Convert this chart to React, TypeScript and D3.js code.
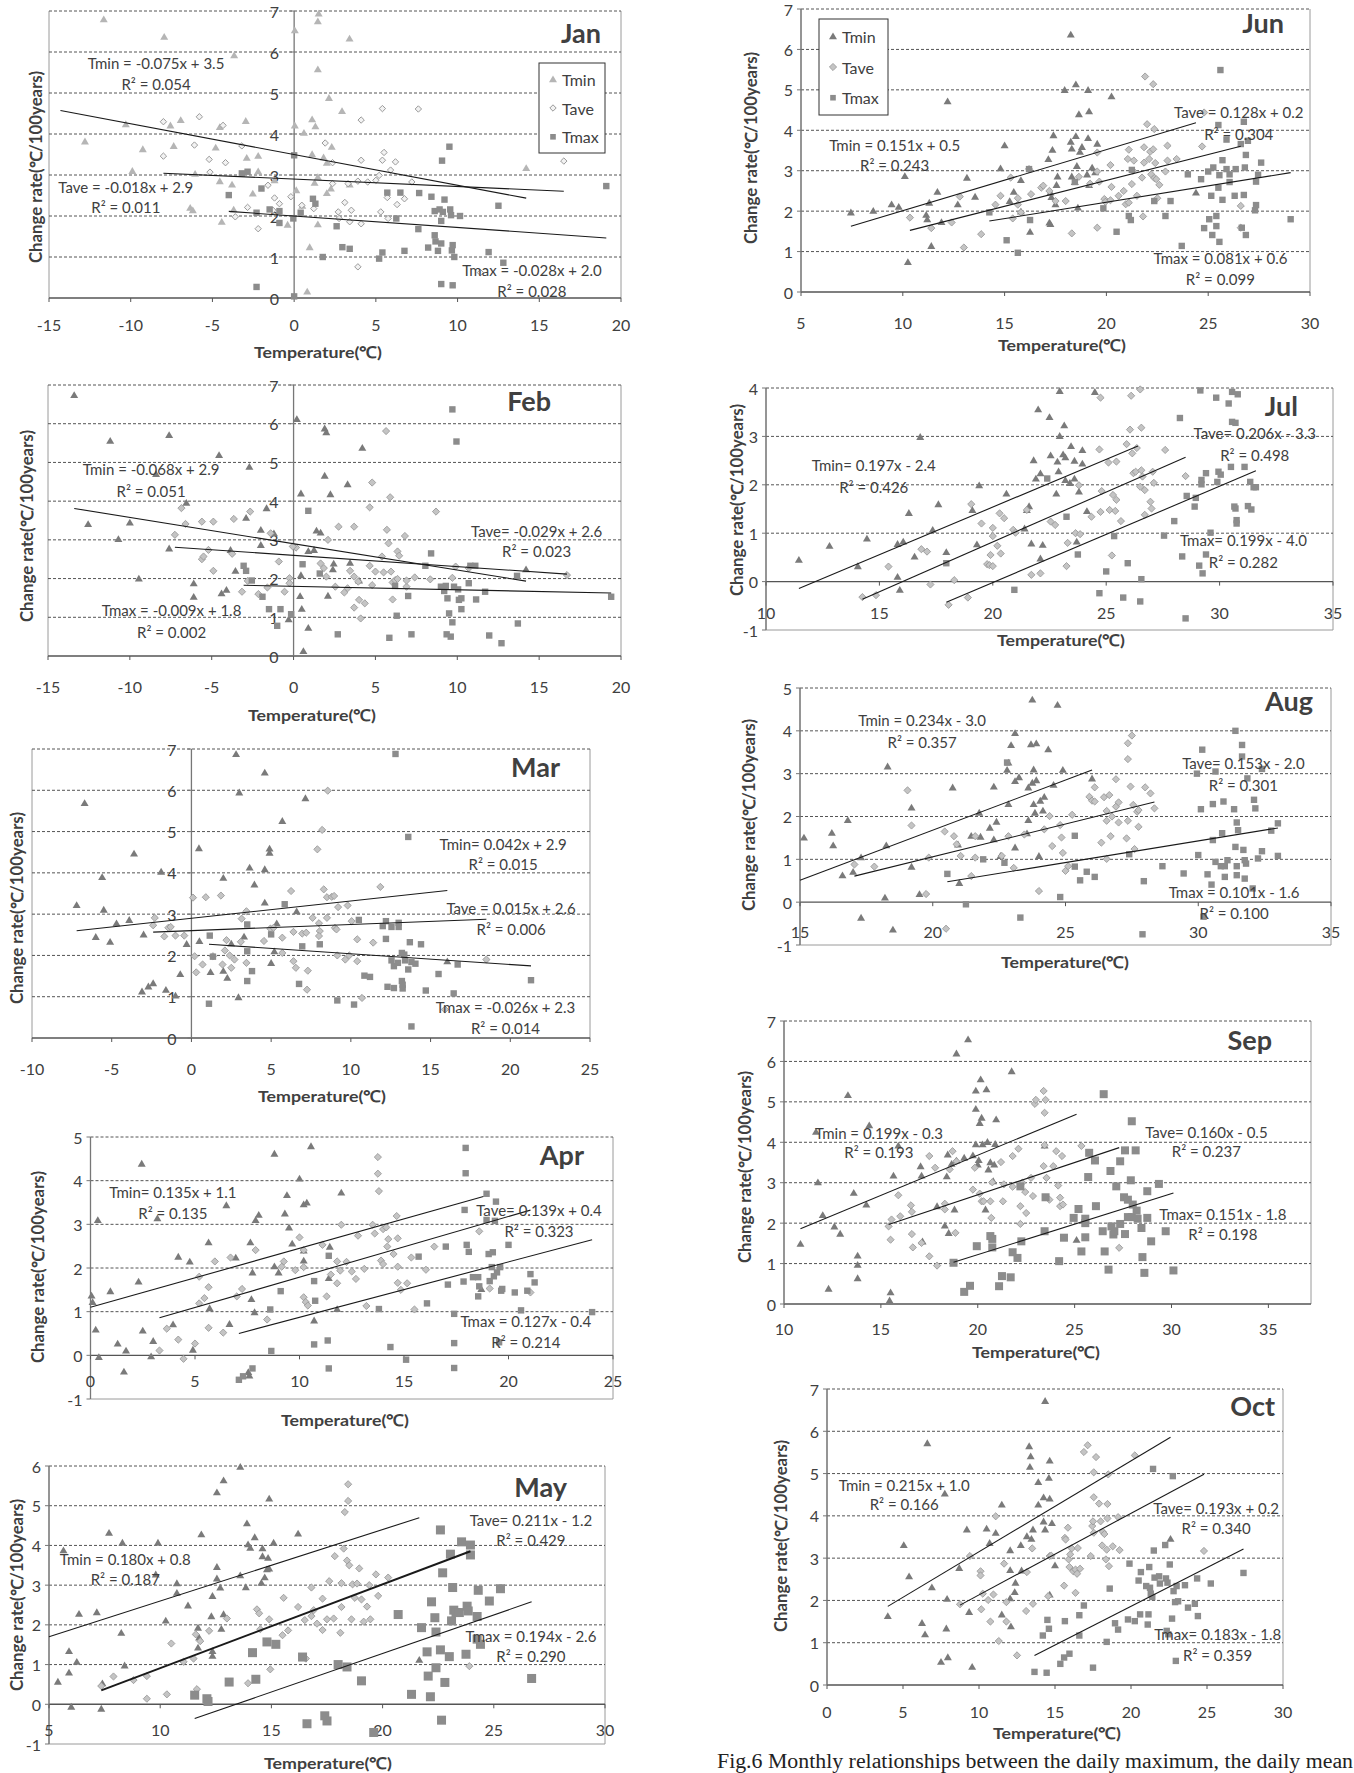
import React from "react";
import * as d3 from "d3";

type Pt = [number, number];

// ---------------- DATA ----------------
const seriesNames = ["Tmin", "Tave", "Tmax"];

const janTmin: Pt[] = [[-11.65,6.8],[-7.95,6.37],[-3.67,5.92],[0.04,6.53],[1.5,6.94],[1.45,6.75],[3.39,6.33],[1.45,5.58],[2.13,4.88],[2.93,4.56],[-10.3,4.24],[-6.94,4.34],[-7.57,4.21],[-4.55,4.17],[-2.96,4.32],[-12.8,3.82],[-9.26,3.63],[-7.37,3.71],[-4.8,3.67],[-2.9,3.42],[-2.2,3.47],[-9.9,3.1],[-6.06,3.03],[-2.2,3.09],[-4.55,2.85],[-3.8,2.77],[-2.53,2.55],[-1.2,2.87],[-6.36,2.2],[-6.2,2.14],[-4.43,1.86],[-3.7,2.16],[-0.4,1.79],[0.04,4.21],[0.6,4.03],[1.1,4.36],[1.3,4.19],[1.1,3.51],[1.8,3.43],[2.3,3.69],[2.0,3.3],[1.45,2.95],[1.25,2.81],[0.13,2.63],[2.0,2.56],[2.25,2.67],[3.4,2.77],[0.5,2.25],[1.45,1.8],[0.95,1.24],[0.8,0.16],[14.2,3.17]];
const janTave: Pt[] = [[-8.0,4.3],[-5.8,4.42],[-4.35,4.21],[-6.1,3.73],[-8.0,3.46],[-5.2,3.38],[-4.2,3.3],[-3.2,3.71],[-5.15,3.07],[-2.85,2.21],[-3.6,1.98],[-2.2,1.69],[-1.6,2.75],[-1.2,2.44],[-0.9,2.3],[-1.3,2.14],[-0.2,2.47],[0.47,2.26],[1.2,2.18],[1.9,3.78],[2.35,3.3],[2.35,2.79],[2.7,2.1],[3.1,2.33],[3.5,2.14],[2.75,1.94],[3.4,1.86],[4.1,1.81],[3.3,2.79],[3.9,2.85],[4.5,2.83],[4.1,4.34],[5.4,4.62],[7.6,4.61],[4.1,3.36],[5.5,3.55],[5.4,3.36],[6.2,3.32],[5.9,3.12],[5.2,2.99],[5.0,2.87],[7.2,2.83],[5.7,2.45],[6.75,2.42],[6.3,2.28],[5.3,2.1],[5.75,1.94],[3.9,0.76],[11.4,0.62],[16.5,3.34]];
const janTmax: Pt[] = [[0.0,3.48],[-2.85,3.08],[-3.2,3.04],[-4.0,2.51],[-2.0,2.67],[-2.3,2.08],[-1.5,2.16],[-0.9,2.12],[-0.9,1.83],[0.4,2.08],[1.15,2.42],[1.3,2.3],[-0.05,1.94],[2.6,1.75],[1.75,1.0],[2.95,1.24],[3.4,1.2],[5.2,0.96],[5.4,1.11],[5.7,2.57],[6.5,2.57],[6.25,1.94],[6.75,1.15],[7.65,2.56],[7.6,1.68],[8.4,2.47],[9.2,2.4],[8.6,2.12],[8.9,2.16],[9.1,2.1],[9.55,2.16],[9.6,2.02],[10.15,2.0],[9.0,1.88],[8.6,1.53],[8.65,1.38],[9.0,1.33],[8.2,1.23],[8.8,1.15],[9.7,1.29],[9.65,1.16],[9.8,1.0],[11.9,1.12],[9.5,3.69],[9.05,3.35],[12.5,2.25],[12.8,0.86],[9.0,0.34],[9.7,0.31],[-2.3,0.27],[0.0,0.04],[19.1,2.73]];

const febTmin: Pt[] = [[-13.4,6.74],[-11.2,5.56],[-7.6,5.71],[-4.55,5.19],[-2.7,4.89],[-8.4,4.7],[-6.55,3.96],[-12.55,3.41],[-10.0,3.45],[-10.7,3.02],[-7.6,2.78],[-9.45,2.0],[-6.1,1.88],[-6.1,1.53],[-2.9,3.57],[-1.65,3.82],[-2.0,3.26],[-2.0,2.87],[-1.2,3.17],[-3.85,2.74],[-3.55,2.2],[-4.4,1.62],[-4.1,1.71],[0.2,6.12],[1.9,5.88],[2.0,5.78],[4.2,5.38],[1.9,4.66],[3.3,4.44],[0.45,4.2],[2.25,4.18],[1.4,3.24],[1.65,3.19],[1.25,2.74],[0.9,2.71],[3.45,2.41],[2.45,2.39],[2.4,2.24],[4.0,1.95],[0.45,2.09],[2.1,1.56],[0.4,1.55],[0.5,1.22],[0.9,0.73],[0.6,0.13],[-0.3,0.95],[14.2,2.24]];
const febTave: Pt[] = [[-6.85,3.82],[-7.25,3.13],[-6.6,3.41],[-5.6,3.47],[-4.9,3.47],[-3.65,3.54],[-2.65,3.73],[-5.6,2.5],[-5.5,2.57],[-5.2,2.74],[-4.9,2.2],[-3.75,2.64],[-3.15,1.66],[-2.8,1.94],[-2.15,1.6],[-1.6,1.77],[-1.4,3.17],[-0.9,2.44],[-0.25,2.01],[-0.25,1.88],[-0.55,1.66],[0.15,2.8],[-0.05,2.83],[4.8,4.48],[5.9,4.1],[5.65,5.81],[4.65,3.84],[8.7,3.73],[2.75,3.34],[3.7,3.34],[5.7,3.26],[5.8,2.91],[6.8,3.1],[2.1,3.0],[1.65,2.39],[1.85,2.27],[2.0,2.05],[2.55,1.79],[3.45,2.2],[3.7,2.05],[3.95,1.92],[3.3,1.75],[3.1,1.64],[4.0,1.45],[3.7,1.25],[4.35,1.36],[4.1,0.97],[4.65,2.33],[4.8,1.83],[5.0,2.18],[5.4,2.57],[5.5,2.16],[5.95,2.18],[6.05,1.9],[6.05,1.46],[6.35,2.7],[6.45,2.59],[6.2,1.96],[6.35,1.99],[6.9,1.79],[6.9,1.95],[7.4,2.03],[8.35,1.98],[9.9,2.31],[10.7,2.27],[16.7,2.09],[9.7,2.02]];
const febTmax: Pt[] = [[9.7,6.37],[9.95,5.54],[0.9,3.75],[0.55,2.37],[-3.05,2.33],[-2.9,2.2],[-2.55,1.95],[-1.9,1.53],[-1.5,1.21],[-0.8,1.21],[-1.0,0.78],[-0.15,1.08],[1.6,2.13],[6.2,1.81],[7.0,1.55],[6.3,1.04],[5.85,0.47],[7.2,0.56],[2.7,0.56],[8.4,2.65],[8.05,2.33],[11.1,2.33],[10.8,2.33],[10.7,1.88],[11.7,1.66],[9.0,1.79],[9.3,1.81],[9.2,1.68],[9.8,1.79],[10.05,1.72],[9.4,1.49],[10.25,1.49],[10.1,1.45],[11.15,1.46],[10.25,1.21],[9.5,1.1],[9.7,0.87],[9.35,0.56],[9.6,0.5],[11.95,0.53],[12.7,0.33],[13.7,0.84],[13.65,2.07],[19.4,1.53]];

const marTmin: Pt[] = [[-7.2,3.22],[-6.7,5.69],[-5.5,3.11],[-6.0,2.45],[-5.1,2.33],[-4.7,2.78],[-3.9,2.86],[-3.6,4.47],[-5.6,3.9],[-3.0,2.51],[-3.1,1.13],[-2.7,1.25],[-2.4,1.33],[-1.9,4.03],[-1.6,1.17],[-1.0,1.03],[-0.7,1.55],[-0.3,2.28],[0.47,4.6],[0.5,2.35],[1.2,1.6],[2.0,3.88],[2.0,1.63],[2.25,1.46],[2.8,6.88],[3.0,5.95],[2.95,0.99],[3.65,4.13],[3.95,3.72],[3.3,2.46],[2.5,2.29],[4.6,6.43],[4.6,4.09],[4.9,4.59],[4.9,4.49],[4.6,3.28],[5.0,1.82],[5.2,2.1],[5.35,2.78],[5.7,5.26],[7.15,5.81],[6.6,3.07],[16.05,1.86]];
const marTave: Pt[] = [[0.1,3.4],[0.9,3.41],[1.85,3.45],[-2.3,2.91],[-2.4,2.73],[-1.45,2.67],[-1.3,2.69],[-1.7,2.46],[-1.0,2.48],[-0.45,2.48],[0.2,1.98],[0.3,1.59],[0.7,1.78],[1.35,1.98],[1.95,1.78],[2.2,2.37],[2.1,2.12],[2.4,2.0],[2.5,1.7],[2.7,1.9],[3.15,2.89],[3.45,3.07],[3.1,2.33],[3.45,1.82],[4.55,2.35],[4.95,2.65],[5.15,2.67],[5.7,2.43],[5.7,2.06],[6.4,2.57],[6.4,1.86],[6.55,1.7],[6.25,3.56],[6.95,2.53],[7.2,2.55],[7.3,1.63],[7.25,1.17],[7.6,2.91],[7.9,4.57],[8.2,5.04],[8.55,5.99],[8.0,2.78],[8.05,2.59],[8.0,2.47],[8.3,3.6],[8.5,3.41],[8.5,2.91],[8.8,3.42],[8.95,3.44],[9.0,2.67],[9.1,2.63],[9.2,3.17],[9.8,3.21],[9.15,2.0],[9.65,1.9],[9.9,2.0],[10.05,2.83],[10.4,2.39],[10.4,1.86],[11.4,2.31],[11.85,3.66],[18.5,1.9],[15.9,0.69],[10.7,0.97]];
const marTmax: Pt[] = [[1.15,2.48],[1.1,0.83],[1.35,1.97],[3.5,2.1],[3.5,2.75],[3.5,1.38],[3.8,1.62],[5.85,3.24],[5.0,2.51],[6.95,2.22],[6.75,1.31],[8.05,2.27],[9.15,0.91],[10.2,0.81],[10.5,2.86],[10.85,1.51],[11.2,1.48],[12.0,2.71],[12.2,2.83],[12.2,2.4],[12.55,2.69],[12.3,1.24],[12.7,1.21],[12.55,1.88],[12.7,1.74],[13.0,2.79],[13.0,2.69],[12.95,1.82],[13.2,2.06],[13.35,2.02],[13.4,1.88],[13.2,1.38],[13.25,1.29],[13.25,1.2],[13.6,1.66],[13.7,2.32],[13.8,1.84],[14.05,1.8],[14.4,2.27],[13.6,4.87],[12.8,6.88],[13.8,0.28],[14.7,1.15],[15.5,1.55],[16.45,1.08],[16.7,1.78],[21.3,1.4]];

const aprTmin: Pt[] = [[0.05,1.37],[0.1,1.22],[0.25,0.59],[0.35,3.1],[0.4,-0.04],[0.95,1.47],[1.3,0.27],[1.7,0.11],[1.6,-0.37],[2.3,1.69],[2.45,4.39],[2.5,0.57],[2.9,-0.02],[3.0,0.33],[3.2,3.14],[3.95,0.71],[4.2,2.26],[4.75,2.15],[4.9,0.13],[5.65,2.59],[5.7,1.08],[6.5,3.44],[6.65,0.72],[6.95,2.24],[7.55,-0.38],[7.6,-0.46],[7.65,2.59],[7.7,1.29],[7.75,1.9],[7.85,0.99],[7.9,3.1],[8.05,3.22],[8.8,4.62],[8.8,2.04],[9.0,1.9],[9.3,3.25],[9.4,3.67],[9.5,2.93],[9.65,2.56],[10.0,4.05],[10.2,3.46],[10.35,3.5],[10.2,2.17],[10.2,2.4],[10.55,4.79],[10.7,0.8],[11.4,1.77],[11.45,2.49],[12.0,3.73],[11.8,1.06],[18.7,1.52]];
const aprTave: Pt[] = [[3.3,0.11],[3.65,0.61],[4.2,0.36],[4.45,-0.08],[5.0,0.27],[5.2,1.19],[5.45,1.31],[5.2,1.8],[5.65,1.56],[5.65,0.63],[5.95,2.15],[6.35,0.52],[6.7,2.24],[7.0,1.35],[7.25,1.52],[7.9,2.41],[8.45,0.82],[9.15,2.03],[9.25,2.15],[9.8,1.95],[10.0,2.7],[10.2,2.41],[10.2,1.33],[10.3,1.22],[10.4,1.14],[10.2,2.02],[11.1,2.53],[11.3,1.35],[11.5,1.85],[11.8,2.15],[11.8,1.65],[11.95,1.94],[12.0,2.99],[12.25,2.14],[12.5,1.92],[12.7,1.75],[12.8,2.74],[13.1,1.98],[13.2,1.13],[13.5,2.99],[13.6,2.79],[13.75,4.54],[13.75,4.16],[13.8,3.76],[13.9,2.17],[14.0,2.09],[14.0,2.89],[14.15,2.93],[14.2,2.49],[14.25,2.66],[14.5,2.32],[14.65,3.19],[14.7,2.68],[14.7,2.03],[14.7,1.66],[14.85,1.5],[15.15,1.65],[15.35,2.24],[15.5,1.05],[16.05,1.96],[16.45,2.49],[18.6,2.84],[19.1,1.53],[21.05,1.44]];
const aprTmax: Pt[] = [[7.1,-0.56],[7.3,-0.48],[7.75,-0.3],[8.6,1.05],[8.65,0.1],[9.1,1.47],[10.7,1.7],[10.75,1.25],[10.7,0.25],[11.4,2.28],[11.35,0.34],[11.4,-0.3],[13.8,1.06],[14.35,0.19],[15.1,-0.1],[15.7,2.26],[16.1,1.19],[17.0,2.49],[17.1,1.62],[17.4,0.95],[17.4,0.28],[17.4,-0.29],[17.95,4.75],[17.95,4.17],[17.9,3.33],[18.0,2.53],[18.1,2.37],[17.85,1.69],[18.3,1.79],[18.55,1.79],[18.55,1.35],[18.6,1.58],[18.95,3.7],[18.95,3.1],[19.05,2.32],[19.25,2.36],[19.4,3.52],[19.35,3.08],[19.2,2.02],[19.3,1.81],[19.45,1.9],[19.1,1.7],[19.6,2.02],[19.65,1.48],[19.7,1.52],[20.0,2.53],[20.3,1.44],[20.6,1.03],[20.9,1.48],[21.05,1.86],[21.25,1.67],[24.0,0.99],[19.55,0.3]];

const mayTmin: Pt[] = [[5.4,0.57],[5.65,3.88],[5.9,1.34],[5.9,0.8],[6.0,-0.06],[6.25,1.07],[6.35,2.28],[7.15,2.32],[7.35,-0.11],[7.4,0.53],[7.7,4.32],[8.25,1.8],[8.3,4.07],[8.4,0.98],[9.9,4.07],[9.8,3.27],[10.25,2.11],[10.75,3.05],[10.75,2.81],[11.25,2.49],[11.85,4.28],[11.75,1.68],[11.7,1.93],[11.7,1.43],[12.3,2.22],[12.35,2.73],[12.35,1.34],[12.35,1.22],[12.55,3.46],[12.55,3.17],[12.55,5.34],[12.7,2.94],[12.75,1.9],[12.85,5.64],[12.85,2.27],[13.6,5.98],[13.6,3.25],[13.85,2.95],[13.9,4.56],[13.95,4.03],[14.05,3.94],[14.25,4.21],[14.55,3.06],[14.6,3.93],[14.6,3.73],[14.7,3.2],[14.8,3.4],[14.85,3.69],[14.9,5.18],[14.9,3.42],[15.1,4.07],[16.2,4.3],[21.65,1.12]];
const mayTave: Pt[] = [[7.35,0.46],[7.9,0.7],[8.8,0.61],[9.4,0.71],[9.4,0.14],[10.3,0.25],[10.5,1.53],[11.05,1.07],[11.5,1.15],[11.6,1.76],[11.65,0.38],[11.8,1.59],[12.2,1.85],[13.0,2.16],[13.95,0.53],[14.35,2.39],[14.45,2.29],[14.5,1.89],[14.9,2.14],[14.95,0.88],[15.55,2.68],[15.5,1.74],[15.75,1.86],[16.2,2.45],[16.5,2.12],[16.55,1.15],[16.8,2.22],[16.8,2.94],[16.9,2.37],[17.05,2.03],[17.3,2.66],[17.3,1.87],[17.5,2.14],[17.6,3.1],[17.8,2.16],[17.85,3.73],[18.1,1.8],[18.15,2.45],[18.15,3.05],[18.25,3.92],[18.3,4.84],[18.4,3.62],[18.45,5.12],[18.45,5.54],[18.5,3.5],[18.6,2.14],[18.65,3.02],[18.75,2.68],[18.85,3.04],[18.95,3.42],[19.05,2.64],[19.15,2.08],[19.3,2.46],[19.4,3.0],[19.45,2.14],[19.7,3.27],[19.8,2.73],[20.25,3.19],[23.9,0.96]];
const mayTmax: Pt[] = [[11.55,0.23],[12.1,0.14],[12.15,0.07],[13.1,0.56],[14.15,1.3],[14.3,0.63],[14.8,1.57],[15.2,1.51],[16.4,1.19],[16.6,-0.49],[17.4,-0.29],[17.5,-0.42],[18.0,1.0],[18.4,0.94],[19.05,0.59],[19.6,-0.71],[20.7,2.26],[21.3,0.25],[21.75,1.93],[22.0,1.32],[22.05,0.71],[22.15,0.19],[22.2,2.58],[22.35,2.18],[22.4,1.82],[22.4,0.92],[22.6,4.39],[22.6,1.37],[22.65,-0.4],[22.7,3.31],[22.8,0.55],[23.0,1.2],[23.05,3.78],[23.1,2.1],[23.15,2.94],[23.2,2.37],[23.3,2.31],[23.45,2.31],[23.55,4.09],[23.75,1.26],[23.8,2.47],[23.85,2.35],[23.95,3.76],[23.95,4.01],[24.25,2.21],[24.3,2.87],[24.25,1.64],[24.4,1.51],[24.8,2.6],[25.3,2.91],[26.7,0.65]];

const junTmin: Pt[] = [[7.45,1.97],[8.55,2.01],[9.45,2.17],[9.8,2.11],[10.1,2.87],[10.25,0.74],[11.15,1.91],[11.2,1.8],[11.3,2.21],[11.4,1.14],[11.7,2.48],[11.9,1.73],[12.2,4.72],[12.7,2.17],[13.15,2.83],[13.55,2.36],[14.8,3.06],[15.0,3.63],[15.25,2.25],[15.45,2.48],[15.8,2.77],[15.8,1.99],[16.25,1.49],[17.15,3.29],[17.2,1.72],[17.25,1.68],[17.25,2.46],[17.3,2.35],[17.35,3.52],[17.4,3.88],[17.5,2.17],[17.55,2.65],[17.6,2.86],[17.95,5.0],[18.25,6.37],[18.25,3.72],[18.3,3.55],[18.3,2.86],[18.45,2.72],[18.5,5.14],[18.5,3.86],[18.55,3.12],[18.6,2.09],[18.65,4.4],[18.7,3.47],[18.8,3.59],[19.05,2.91],[19.1,5.0],[19.15,4.47],[19.1,3.81],[19.15,2.65],[19.3,3.08],[19.45,2.96],[19.55,3.67],[20.25,4.84],[24.4,2.46]];
const junTave: Pt[] = [[10.35,1.84],[11.4,1.58],[12.4,1.72],[12.8,2.36],[13.0,1.1],[13.85,1.43],[14.55,2.16],[14.8,2.38],[15.3,2.83],[15.4,1.82],[15.65,2.32],[15.65,2.16],[15.8,1.97],[16.3,2.42],[16.2,3.04],[16.8,2.58],[16.9,2.63],[17.2,2.5],[17.5,2.25],[18.0,2.25],[18.3,1.45],[18.65,2.85],[19.2,2.68],[19.55,1.59],[19.55,2.98],[19.55,3.45],[19.65,2.73],[19.9,2.3],[19.95,2.23],[20.2,2.27],[20.2,3.14],[20.25,2.6],[20.6,2.38],[20.85,2.5],[20.95,2.17],[21.05,3.29],[21.1,3.52],[21.1,2.21],[21.25,2.67],[21.3,3.0],[21.35,3.25],[21.5,2.38],[21.75,2.83],[21.8,1.87],[21.85,3.58],[21.85,3.2],[21.9,5.33],[22.0,4.15],[22.1,3.29],[22.15,3.47],[22.2,2.91],[22.3,5.14],[22.3,3.53],[22.35,4.03],[22.35,2.82],[22.4,3.19],[22.45,2.79],[22.5,2.32],[22.6,2.65],[22.9,2.98],[23.0,3.62],[23.0,3.25],[23.45,3.29],[24.7,3.6],[24.8,4.44],[26.6,2.13],[26.6,1.59]];
const junTmax: Pt[] = [[14.25,1.97],[15.1,1.28],[15.65,0.97],[16.2,3.04],[16.25,1.78],[18.45,2.72],[19.85,2.07],[20.5,1.49],[21.1,1.88],[21.2,1.78],[21.25,3.02],[22.35,2.25],[22.9,1.88],[23.15,2.25],[23.7,1.14],[24.0,2.91],[24.65,2.79],[24.8,1.58],[25.0,2.98],[25.05,1.8],[25.15,2.38],[25.2,1.41],[25.25,3.08],[25.4,1.88],[25.4,1.63],[25.5,2.58],[25.55,2.89],[25.5,4.13],[25.55,1.24],[25.6,5.49],[25.7,3.26],[25.7,2.28],[25.9,3.77],[25.9,3.04],[26.05,2.72],[26.05,2.91],[26.3,2.38],[26.35,3.04],[26.6,3.66],[26.65,1.59],[26.75,2.4],[26.75,4.21],[26.8,3.08],[26.85,3.39],[26.85,1.41],[26.95,3.74],[27.3,2.02],[27.35,2.15],[27.35,2.73],[27.45,2.9],[27.6,3.2],[29.05,1.8]];

const julTmin: Pt[] = [[11.45,0.45],[12.8,0.74],[14.05,0.32],[14.45,0.89],[15.8,0.78],[16.05,0.83],[16.3,1.42],[16.55,0.52],[16.8,2.99],[17.35,1.07],[17.6,1.6],[17.95,0.61],[15.9,-0.17],[15.8,0.1],[19.1,1.48],[19.4,1.99],[19.3,0.77],[20.6,1.82],[21.4,1.1],[21.5,1.48],[21.6,1.56],[21.7,0.79],[21.8,2.51],[21.9,2.13],[22.0,3.56],[22.1,2.24],[22.1,0.48],[22.2,0.76],[22.5,3.4],[22.55,2.61],[22.8,1.82],[22.85,2.48],[22.9,2.28],[22.95,3.94],[22.95,3.01],[23.1,2.63],[23.15,3.23],[23.2,2.57],[23.2,2.1],[23.4,2.04],[23.45,2.8],[23.6,2.5],[23.6,2.13],[23.8,1.86],[23.7,0.83],[23.95,2.72],[23.95,2.44],[24.15,1.46],[24.5,3.92]];
const julTave: Pt[] = [[14.25,-0.32],[14.85,-0.28],[15.4,0.31],[17.1,0.62],[17.25,-0.06],[16.85,0.67],[18.05,-0.48],[18.3,0.03],[18.9,-0.33],[19.05,1.6],[19.5,1.2],[19.75,0.36],[19.85,0.34],[19.9,0.55],[20.0,0.94],[20.0,0.32],[20.0,1.11],[20.2,0.74],[20.3,1.41],[20.35,0.58],[20.5,1.31],[20.9,1.07],[21.0,1.01],[21.5,1.48],[21.7,0.14],[22.1,0.17],[22.55,1.24],[22.75,1.17],[23.25,0.32],[23.3,0.8],[23.65,1.0],[23.8,1.99],[23.85,0.98],[24.35,1.34],[24.7,2.73],[24.75,3.8],[24.75,1.44],[24.8,1.87],[25.1,2.46],[25.15,1.48],[25.25,0.54],[25.3,1.79],[25.4,1.46],[25.45,2.48],[25.45,1.69],[25.65,1.25],[25.9,2.84],[26.05,3.14],[26.1,3.84],[26.15,2.65],[26.2,2.24],[26.3,2.27],[26.35,2.76],[26.5,1.96],[26.5,3.97],[26.55,3.18],[26.55,2.3],[26.6,2.17],[26.7,1.38],[26.7,1.89],[26.95,1.65],[27.0,1.51],[27.05,2.27],[27.1,2.04],[27.6,2.72],[28.5,2.18]];
const julTmax: Pt[] = [[30.55,3.92],[30.8,3.87],[29.15,3.95],[29.85,3.8],[30.4,3.68],[30.55,3.3],[30.7,3.28],[28.25,3.38],[29.95,2.27],[30.05,2.21],[30.5,2.37],[31.1,2.37],[29.4,2.24],[29.2,2.1],[29.2,2.01],[29.9,2.06],[31.35,2.06],[31.5,1.95],[31.6,1.95],[28.55,1.77],[28.95,1.73],[28.9,1.55],[28.0,1.25],[30.65,1.55],[30.7,1.51],[31.25,1.56],[31.4,1.49],[30.75,1.27],[30.75,1.2],[29.6,1.01],[27.55,0.95],[28.35,0.52],[29.4,0.56],[29.25,0.17],[29.1,0.33],[25.35,0.94],[23.25,1.34],[22.4,2.13],[23.75,0.56],[20.95,-0.17],[17.95,0.38],[25.0,0.21],[24.7,-0.24],[25.75,-0.33],[25.95,0.38],[26.5,-0.41],[26.55,0.05],[28.5,-0.76]];

const augTmin: Pt[] = [[15.15,1.51],[16.2,1.62],[16.25,1.33],[16.6,0.63],[16.8,1.92],[17.0,0.71],[17.3,1.05],[17.3,-0.36],[18.2,0.11],[18.25,1.33],[18.3,3.17],[18.5,-0.64],[19.2,2.21],[19.2,0.83],[19.5,0.19],[20.75,2.68],[20.95,1.35],[21.0,0.45],[21.45,1.55],[21.75,2.09],[21.8,1.53],[22.15,1.74],[22.3,2.7],[22.3,1.47],[22.4,1.88],[22.55,1.08],[22.8,3.09],[22.85,3.26],[22.85,2.29],[22.95,3.67],[23.1,3.95],[23.1,1.28],[23.1,2.83],[23.25,2.92],[23.55,1.61],[23.6,1.92],[23.6,2.68],[23.7,3.69],[23.75,4.73],[23.75,2.79],[23.8,2.29],[23.8,3.1],[23.85,2.09],[23.9,2.85],[23.9,3.71],[24.0,1.08],[24.05,2.37],[24.15,2.14],[24.2,2.46],[24.35,3.57],[24.55,2.74],[24.7,4.61],[24.9,3.09],[26.0,2.89]];
const augTave: Pt[] = [[17.05,0.88],[17.8,0.83],[19.05,2.61],[19.2,1.79],[19.75,0.19],[19.85,1.04],[20.45,1.65],[20.5,-0.62],[20.8,1.54],[20.9,1.35],[21.05,1.08],[21.45,0.61],[21.6,1.54],[21.6,1.04],[22.6,1.08],[22.85,1.54],[23.05,0.8],[23.45,1.58],[24.0,0.26],[24.2,1.7],[24.4,2.01],[24.5,1.31],[24.85,1.51],[24.9,1.15],[24.8,1.8],[25.0,0.73],[25.1,0.84],[25.25,2.04],[25.9,2.46],[26.0,2.37],[26.1,2.68],[26.1,2.35],[26.35,1.39],[26.45,2.45],[26.55,2.13],[26.55,1.9],[26.55,1.01],[26.65,2.5],[26.7,1.54],[26.75,2.0],[26.9,2.87],[26.9,2.23],[27.0,2.33],[27.0,1.86],[27.3,1.49],[27.35,3.34],[27.35,3.71],[27.5,3.89],[27.35,1.9],[27.45,2.7],[27.55,2.27],[27.6,1.24],[27.7,2.11],[27.75,1.76],[27.75,2.15],[28.0,2.68],[28.2,2.54],[28.35,2.19]];
const augTmax: Pt[] = [[20.55,0.66],[21.25,-0.05],[21.9,1.0],[22.7,0.92],[22.8,3.26],[23.3,-0.36],[24.8,0.12],[25.35,0.83],[25.55,0.51],[25.8,0.71],[26.1,0.59],[25.35,1.55],[27.4,1.12],[27.95,0.49],[27.9,-0.75],[28.65,0.84],[29.45,0.67],[29.95,3.0],[30.0,1.1],[30.1,2.17],[30.15,3.56],[30.2,-0.34],[30.35,0.65],[30.55,2.29],[30.55,1.45],[30.5,0.41],[30.65,3.05],[30.65,0.94],[30.85,0.84],[30.9,1.61],[30.95,2.35],[31.0,0.84],[31.0,0.59],[31.1,0.98],[31.35,2.17],[31.4,1.29],[31.45,0.84],[31.45,0.63],[31.45,1.86],[31.5,1.68],[31.4,4.0],[31.65,3.67],[31.65,3.4],[31.7,1.22],[31.75,0.98],[31.75,0.55],[31.8,0.9],[31.85,2.89],[32.05,0.32],[32.1,2.39],[32.15,2.19],[32.25,1.02],[32.4,3.11],[32.4,1.19],[32.75,1.67],[33.0,1.84],[33.0,1.08]];

const sepTmin: Pt[] = [[10.85,1.49],[11.65,4.26],[11.75,3.01],[12.0,2.2],[12.3,0.38],[12.6,1.92],[12.9,1.74],[13.3,5.17],[13.6,2.75],[13.8,1.2],[13.8,0.97],[13.8,0.64],[14.25,2.46],[14.4,4.42],[15.45,0.09],[15.5,0.29],[15.65,3.18],[15.9,3.92],[17.05,3.41],[17.1,3.18],[17.15,1.55],[17.9,2.42],[18.3,1.94],[18.4,3.16],[18.45,3.7],[18.5,1.76],[18.65,3.47],[18.8,2.34],[18.9,6.2],[18.9,3.55],[19.3,3.62],[19.5,6.55],[19.75,3.68],[19.9,5.28],[19.9,4.83],[19.9,3.95],[20.0,3.45],[20.05,3.56],[20.1,4.48],[20.15,5.56],[20.2,4.61],[20.25,3.95],[20.4,2.34],[20.45,5.31],[20.5,4.01],[20.55,3.33],[20.65,3.51],[20.8,3.04],[20.85,3.45],[20.9,3.96],[20.95,4.57],[21.75,5.76],[23.45,3.92],[25.1,1.59]];
const sepTave: Pt[] = [[15.4,1.92],[15.5,1.59],[15.55,2.09],[16.0,2.17],[15.9,2.69],[16.55,2.44],[16.6,2.28],[16.6,1.73],[16.65,1.4],[17.1,1.51],[17.5,3.66],[17.5,1.18],[17.8,3.37],[17.9,0.95],[18.3,2.48],[18.3,2.34],[18.55,3.33],[18.7,3.78],[18.85,1.76],[18.9,3.53],[19.75,2.83],[19.85,3.37],[20.1,2.73],[20.2,2.54],[20.3,2.54],[20.65,2.54],[20.7,2.13],[20.75,3.01],[21.2,3.51],[21.3,2.54],[21.35,2.96],[21.8,3.66],[21.8,2.9],[22.1,3.84],[22.2,2.42],[22.2,1.98],[22.3,3.0],[22.45,2.77],[22.5,2.25],[22.75,3.12],[22.85,2.67],[22.95,4.95],[23.0,5.05],[23.4,5.27],[23.4,3.41],[23.45,4.73],[23.45,3.93],[23.5,5.05],[23.55,3.12],[23.7,2.58],[23.9,3.41],[24.05,3.78],[24.15,2.93],[24.25,2.63],[24.25,2.42],[24.35,3.66],[24.4,2.46],[25.35,3.91],[27.3,1.39]];
const sepTmax: Pt[] = [[19.3,0.3],[19.6,0.45],[19.95,1.43],[20.65,1.68],[20.75,1.61],[20.75,1.4],[21.1,0.44],[21.25,0.69],[21.7,0.66],[21.8,1.28],[22.05,1.14],[22.2,2.91],[22.25,1.55],[18.75,1.02],[23.45,1.8],[23.5,2.64],[24.2,1.06],[24.45,1.64],[24.95,2.13],[25.2,2.35],[25.35,1.3],[25.55,2.11],[25.55,2.0],[25.55,1.65],[25.7,3.14],[25.75,3.74],[26.05,3.55],[26.1,2.42],[26.45,1.8],[26.5,5.19],[26.55,1.3],[26.75,0.85],[26.85,3.29],[26.9,1.92],[27.0,1.72],[27.05,1.8],[27.15,2.91],[27.35,1.98],[27.35,3.53],[27.55,2.64],[27.6,3.8],[27.6,1.73],[27.75,2.58],[27.75,2.15],[27.9,3.06],[27.95,4.52],[27.95,2.15],[28.0,2.46],[28.15,3.8],[28.2,2.31],[28.25,2.11],[28.45,1.88],[28.5,1.16],[28.6,0.77],[28.75,2.79],[28.75,2.13],[28.95,1.55],[29.35,2.97],[29.7,1.8],[30.1,0.83]];

const octTmin: Pt[] = [[4.0,1.63],[5.05,3.31],[5.4,2.57],[6.25,1.47],[6.45,1.2],[6.6,5.72],[6.9,2.31],[7.5,0.55],[7.75,4.53],[7.85,1.34],[7.9,2.04],[7.95,0.66],[8.7,2.77],[9.2,3.68],[9.35,1.73],[9.55,0.43],[10.5,3.7],[10.7,3.36],[11.1,3.6],[11.5,4.27],[11.5,1.67],[12.05,3.19],[12.05,2.72],[12.05,2.05],[12.1,1.39],[12.35,2.2],[12.4,2.42],[12.75,3.31],[12.8,2.71],[13.15,3.52],[13.3,5.65],[13.35,5.16],[13.4,5.41],[13.45,3.46],[13.55,3.68],[13.9,4.8],[13.9,4.27],[14.25,3.87],[14.25,4.44],[14.35,6.72],[14.35,3.68],[14.6,4.9],[14.65,5.31],[14.65,4.41],[14.65,2.14],[14.8,3.83],[15.0,2.83],[22.6,3.46]];
const octTave: Pt[] = [[8.75,1.91],[9.4,3.05],[10.1,2.69],[10.1,2.59],[10.15,1.79],[10.25,2.16],[10.6,2.01],[10.75,1.5],[10.95,2.14],[11.1,3.99],[11.3,1.04],[11.65,2.87],[11.8,1.96],[11.8,1.5],[12.5,0.7],[13.1,1.75],[13.15,2.67],[13.5,3.23],[13.55,1.92],[14.55,2.1],[14.65,3.05],[14.75,3.06],[15.6,2.35],[15.65,3.48],[15.7,3.44],[15.85,3.72],[15.9,2.97],[15.95,2.79],[16.0,3.09],[16.1,3.23],[16.2,2.69],[16.35,2.73],[16.35,2.18],[16.45,2.63],[16.5,3.24],[16.65,2.75],[16.9,5.51],[17.15,5.67],[17.35,3.05],[17.45,3.76],[17.5,3.87],[17.55,4.44],[17.55,3.6],[17.55,5.03],[17.7,5.39],[17.9,4.29],[18.0,3.87],[18.1,3.3],[18.15,3.62],[18.25,3.57],[18.35,2.97],[18.4,3.2],[18.45,3.94],[18.45,4.28],[18.55,2.81],[18.5,4.98],[18.8,3.28],[19.25,3.19],[19.15,3.97],[20.25,5.43],[24.8,3.17]];
const octTmax: Pt[] = [[13.65,0.31],[14.45,0.29],[14.2,1.17],[14.5,1.54],[14.6,1.33],[15.35,0.5],[15.6,0.65],[15.65,1.51],[15.95,0.74],[16.6,1.65],[16.6,1.17],[16.9,1.88],[17.5,0.41],[18.4,1.02],[18.6,2.28],[18.95,1.46],[19.15,1.31],[19.8,1.55],[19.9,2.87],[20.25,1.51],[20.5,2.47],[20.6,1.67],[20.65,2.67],[21.0,2.34],[21.1,1.43],[21.15,1.67],[21.2,2.79],[21.25,2.3],[21.3,2.16],[21.4,2.08],[21.45,5.11],[21.5,3.18],[21.55,2.54],[21.85,2.57],[21.9,2.4],[22.25,3.31],[22.3,2.52],[22.4,2.42],[22.55,2.85],[22.7,1.57],[22.75,4.94],[22.8,2.22],[22.9,1.96],[22.95,0.57],[23.0,2.34],[23.1,1.98],[22.35,1.28],[22.45,1.2],[23.55,2.36],[23.75,1.83],[24.2,1.92],[24.35,2.52],[24.4,1.63],[25.25,2.4],[27.4,2.65]];

// regression fits: [slope, intercept, xStart, xEnd] for Tmin, Tave, Tmax
const janFits = [[-0.075, 3.5, -14.3, 14.2], [-0.018, 2.9, -8.0, 16.5], [-0.028, 2.0, -4.0, 19.1]];
const febFits = [[-0.068, 2.9, -13.4, 14.2], [-0.029, 2.6, -7.25, 16.7], [-0.009, 1.8, -3.05, 19.4]];
const marFits = [[0.042, 2.9, -7.2, 16.05], [0.015, 2.6, -2.4, 18.5], [-0.026, 2.3, 1.1, 21.3]];
const aprFits = [[0.135, 1.1, 0.0, 18.8], [0.139, 0.4, 3.3, 21.05], [0.127, -0.4, 7.1, 24.0]];
const mayFits = [[0.18, 0.8, 5.0, 21.65], [0.211, -1.2, 7.35, 23.95], [0.194, -2.6, 11.55, 26.7]];
const junFits = [[0.151, 0.5, 7.45, 24.4], [0.128, 0.2, 10.35, 26.6], [0.081, 0.6, 14.25, 29.05]];
const julFits = [[0.197, -2.4, 11.45, 26.4], [0.206, -3.3, 14.25, 28.5], [0.199, -4.0, 17.95, 31.6]];
const augFits = [[0.234, -3.0, 15.0, 26.0], [0.153, -2.0, 17.05, 28.35], [0.101, -1.6, 20.55, 33.0]];
const sepFits = [[0.199, -0.3, 10.85, 25.1], [0.16, -0.5, 15.4, 27.3], [0.151, -1.8, 18.75, 30.1]];
const octFits = [[0.215, 1.0, 4.0, 22.6], [0.193, 0.2, 8.75, 24.8], [0.183, -1.8, 13.65, 27.4]];

const janEq = ["Tmin = -0.075x + 3.5", "Tave = -0.018x + 2.9", "Tmax = -0.028x + 2.0"];
const febEq = ["Tmin = -0.068x + 2.9", "Tave= -0.029x + 2.6", "Tmax = -0.009x + 1.8"];
const marEq = ["Tmin= 0.042x + 2.9", "Tave = 0.015x + 2.6", "Tmax = -0.026x + 2.3"];
const aprEq = ["Tmin= 0.135x + 1.1", "Tave= 0.139x + 0.4", "Tmax = 0.127x - 0.4"];
const mayEq = ["Tmin = 0.180x + 0.8", "Tave= 0.211x - 1.2", "Tmax = 0.194x - 2.6"];
const junEq = ["Tmin = 0.151x + 0.5", "Tave = 0.128x + 0.2", "Tmax = 0.081x + 0.6"];
const julEq = ["Tmin= 0.197x - 2.4", "Tave= 0.206x - 3.3", "Tmax= 0.199x - 4.0"];
const augEq = ["Tmin = 0.234x - 3.0", "Tave= 0.153x - 2.0", "Tmax = 0.101x - 1.6"];
const sepEq = ["Tmin = 0.199x - 0.3", "Tave= 0.160x - 0.5", "Tmax= 0.151x - 1.8"];
const octEq = ["Tmin = 0.215x + 1.0", "Tave= 0.193x + 0.2", "Tmax= 0.183x - 1.8"];

const janR2 = ["0.054", "0.011", "0.028"];
const febR2 = ["0.051", "0.023", "0.002"];
const marR2 = ["0.015", "0.006", "0.014"];
const aprR2 = ["0.135", "0.323", "0.214"];
const mayR2 = ["0.187", "0.429", "0.290"];
const junR2 = ["0.243", "0.304", "0.099"];
const julR2 = ["0.426", "0.498", "0.282"];
const augR2 = ["0.357", "0.301", "0.100"];
const sepR2 = ["0.193", "0.237", "0.198"];
const octR2 = ["0.166", "0.340", "0.359"];

const xTitle = "Temperature(℃)";
const yTitle = "Change rate(℃/100years)";
const caption = "Fig.6 Monthly relationships between the daily maximum, the daily mean";

// ---------------- LAYOUT ----------------
const FONT = "Lato, 'Open Sans', Roboto, sans-serif";
const TXT = "#404040";

interface PanelDef {
  name: string;
  tmin: Pt[]; tave: Pt[]; tmax: Pt[];
  fits: number[][]; eq: string[]; r2: string[];
  xDomain: [number, number]; yDomain: [number, number];
  xTicks: number[]; yTicks: number[];
  box: [number, number, number, number];
  zeroAxis: boolean;
  tickY: number;
  xt: [number, number]; yt: [number, number];
  title: [number, number];
  anchors: number[][];
  legend?: [number, number, number, number];
  light?: boolean;
  sq?: number;
  boldAve?: boolean;
}

const r5 = (a: number, b: number) => d3.range(a, b + 0.001, 5);
const r1 = (a: number, b: number) => d3.range(a, b + 0.001, 1);

const panels: PanelDef[] = [
  { name: "Jan", tmin: janTmin, tave: janTave, tmax: janTmax, fits: janFits, eq: janEq, r2: janR2,
    xDomain: [-15, 20], yDomain: [0, 7], xTicks: r5(-15, 20), yTicks: r1(0, 7),
    box: [49, 621, 11, 298], zeroAxis: true, tickY: 324, xt: [318, 351], yt: [36, 167], title: [601, 43],
    anchors: [[-8.45, 5.72, 5.21], [-10.3, 2.71, 2.21], [14.55, 0.69, 0.17]], legend: [539, 63, 66, 90], light: true },
  { name: "Feb", tmin: febTmin, tave: febTave, tmax: febTmax, fits: febFits, eq: febEq, r2: febR2,
    xDomain: [-15, 20], yDomain: [0, 7], xTicks: r5(-15, 20), yTicks: r1(0, 7),
    box: [48, 621, 385, 656], zeroAxis: true, tickY: 686, xt: [312, 714], yt: [27, 526], title: [551, 411],
    anchors: [[-8.7, 4.82, 4.25], [14.85, 3.24, 2.7], [-7.45, 1.19, 0.61]] },
  { name: "Mar", tmin: marTmin, tave: marTave, tmax: marTmax, fits: marFits, eq: marEq, r2: marR2,
    xDomain: [-10, 25], yDomain: [0, 7], xTicks: r5(-10, 25), yTicks: r1(0, 7),
    box: [32, 590, 749, 1038], zeroAxis: true, tickY: 1068, xt: [322, 1095], yt: [17, 908], title: [560, 777],
    anchors: [[19.55, 4.69, 4.21], [20.05, 3.14, 2.65], [19.7, 0.74, 0.24]] },
  { name: "Apr", tmin: aprTmin, tave: aprTave, tmax: aprTmax, fits: aprFits, eq: aprEq, r2: aprR2,
    xDomain: [0, 25], yDomain: [-1, 5], xTicks: r5(0, 25), yTicks: r1(-1, 5),
    box: [90.5, 613, 1137, 1399], zeroAxis: false, tickY: 1380, xt: [345, 1419], yt: [38, 1267], title: [584, 1165],
    anchors: [[3.94, 3.73, 3.27], [21.46, 3.32, 2.85], [20.83, 0.78, 0.3]] },
  { name: "May", tmin: mayTmin, tave: mayTave, tmax: mayTmax, fits: mayFits, eq: mayEq, r2: mayR2,
    xDomain: [5, 30], yDomain: [-1, 6], xTicks: r5(5, 30), yTicks: r1(-1, 6),
    box: [49, 605, 1466, 1744], zeroAxis: false, tickY: 1729, xt: [328, 1762], yt: [17, 1595], title: [567, 1497],
    anchors: [[8.43, 3.65, 3.16], [26.67, 4.63, 4.13], [26.67, 1.72, 1.22]], sq: 4.5, boldAve: true },
  { name: "Jun", tmin: junTmin, tave: junTave, tmax: junTmax, fits: junFits, eq: junEq, r2: junR2,
    xDomain: [5, 30], yDomain: [0, 7], xTicks: r5(5, 30), yTicks: r1(0, 7),
    box: [801, 1310, 9, 292], zeroAxis: false, tickY: 322, xt: [1062, 344], yt: [751, 148], title: [1284, 33],
    anchors: [[9.6, 3.63, 3.15], [26.5, 4.46, 3.92], [25.6, 0.85, 0.31]], legend: [819, 19, 69, 96] },
  { name: "Jul", tmin: julTmin, tave: julTave, tmax: julTmax, fits: julFits, eq: julEq, r2: julR2,
    xDomain: [10, 35], yDomain: [-1, 4], xTicks: r5(10, 35), yTicks: r1(-1, 4),
    box: [766, 1333, 388, 630], zeroAxis: false, tickY: 612, xt: [1061, 639], yt: [737, 500], title: [1298, 416],
    anchors: [[14.75, 2.41, 1.96], [31.55, 3.07, 2.62], [31.05, 0.86, 0.41]] },
  { name: "Aug", tmin: augTmin, tave: augTave, tmax: augTmax, fits: augFits, eq: augEq, r2: augR2,
    xDomain: [15, 35], yDomain: [-1, 5], xTicks: r5(15, 35), yTicks: r1(-1, 5),
    box: [800, 1331, 688, 945], zeroAxis: false, tickY: 931, xt: [1065, 961], yt: [749, 815], title: [1313, 711],
    anchors: [[19.6, 4.26, 3.75], [31.7, 3.24, 2.74], [31.35, 0.24, -0.25]] },
  { name: "Sep", tmin: sepTmin, tave: sepTave, tmax: sepTmax, fits: sepFits, eq: sepEq, r2: sepR2,
    xDomain: [10, 37.2], yDomain: [0, 7], xTicks: r5(10, 35), yTicks: r1(0, 7),
    box: [784, 1311, 1021, 1304], zeroAxis: false, tickY: 1328, xt: [1036, 1351], yt: [745, 1167], title: [1272, 1050],
    anchors: [[14.9, 4.24, 3.76], [31.8, 4.26, 3.78], [32.65, 2.23, 1.72]], sq: 4 },
  { name: "Oct", tmin: octTmin, tave: octTave, tmax: octTmax, fits: octFits, eq: octEq, r2: octR2,
    xDomain: [0, 30], yDomain: [0, 7], xTicks: r5(0, 30), yTicks: r1(0, 7),
    box: [827, 1283, 1389, 1685], zeroAxis: false, tickY: 1711, xt: [1057, 1732], yt: [781, 1536], title: [1275, 1416],
    anchors: [[5.08, 4.74, 4.27], [25.6, 4.19, 3.72], [25.7, 1.21, 0.7]] },
];

const triPath = (s: number) => `M0,${-s}L${s * 1.05},${s * 0.8}L${-s * 1.05},${s * 0.8}Z`;
const diaPath = (s: number) => `M0,${-s}L${s},0L0,${s}L${-s},0Z`;

function Marker({ kind, x, y, p }: { kind: number; x: number; y: number; p: PanelDef }) {
  if (kind === 0) return <path d={triPath(3.8)} transform={`translate(${x},${y})`} fill={p.light ? "#b5b5b5" : "#7a7a7a"} />;
  if (kind === 1)
    return p.light
      ? <path d={diaPath(3.2)} transform={`translate(${x},${y})`} fill="#f2f2f2" stroke="#9a9a9a" strokeWidth={1} />
      : <path d={diaPath(3.6)} transform={`translate(${x},${y})`} fill="#c4c4c4" stroke="#939393" strokeWidth={0.8} />;
  const s = p.sq ?? 3.2;
  return <rect x={x - s} y={y - s} width={2 * s} height={2 * s} fill="#8c8c8c" />;
}

function Panel({ p }: { p: PanelDef }) {
  const [L, R, T, B] = p.box;
  const x = d3.scaleLinear().domain(p.xDomain).range([L, R]);
  const y = d3.scaleLinear().domain(p.yDomain).range([B, T]);
  const axisX = p.zeroAxis ? x(0) : L;
  const y0 = y(0);
  const line = d3.line<Pt>().x((d) => x(d[0])).y((d) => y(d[1]));
  const series = [p.tmin, p.tave, p.tmax];
  const labelRight = p.zeroAxis ? axisX - 15 : L - 8;

  return (
    <g>
      <line x1={L} x2={L} y1={T} y2={B} stroke="#9a9a9a" />
      <line x1={R} x2={R} y1={T} y2={B} stroke="#9a9a9a" />
      <line x1={L} x2={R} y1={B} y2={B} stroke={p.yDomain[0] === 0 ? "#555" : "#9a9a9a"} strokeWidth={p.yDomain[0] === 0 ? 1.6 : 1} />
      {p.yTicks.filter((t) => t > p.yDomain[0] && t !== 0).map((t) => (
        <line key={t} x1={L} x2={R} y1={y(t)} y2={y(t)} stroke="#555" strokeWidth={1} strokeDasharray="3,2" />
      ))}
      {p.yDomain[0] < 0 && <line x1={L} x2={R} y1={y0} y2={y0} stroke="#555" strokeWidth={1.4} />}
      <line x1={axisX} x2={axisX} y1={T} y2={B} stroke="#777" strokeWidth={1.3} />
      {p.xTicks.map((t) => (
        <line key={"xt" + t} x1={x(t)} x2={x(t)} y1={y0} y2={y0 + 4} stroke="#555" />
      ))}
      {p.yTicks.map((t) => (
        <line key={"yt" + t} x1={axisX - 4} x2={axisX} y1={y(t)} y2={y(t)} stroke="#777" />
      ))}
      {p.xTicks.map((t) => (
        <text key={"xl" + t} x={x(t)} y={p.tickY} textAnchor="middle" dominantBaseline="central" fontSize={16} fill={TXT} fontFamily={FONT}>{t}</text>
      ))}
      {p.yTicks.map((t) => (
        <text key={"yl" + t} x={labelRight} y={y(t)} textAnchor="end" dominantBaseline="central" fontSize={16} fill={TXT} fontFamily={FONT}>{t}</text>
      ))}
      {series.map((s, k) => (
        <g key={"s" + k}>
          {s.map((d, i) => (
            <Marker key={i} kind={k} x={x(d[0])} y={y(d[1])} p={p} />
          ))}
        </g>
      ))}
      {p.fits.map(([m, b, x0, x1], k) => (
        <path key={"f" + k} d={line([[x0, m * x0 + b], [x1, m * x1 + b]]) || ""} stroke="#1a1a1a"
          strokeWidth={p.boldAve && k === 1 ? 2 : 1.1} fill="none" />
      ))}
      {p.anchors.map(([ax, ye, yr], k) => (
        <g key={"eq" + k} fontFamily={FONT} fontSize={15} fill={TXT} textAnchor="middle">
          <text x={x(ax)} y={y(ye)} dominantBaseline="central">{p.eq[k]}</text>
          <text x={x(ax)} y={y(yr)} dominantBaseline="central">{"R² = " + p.r2[k]}</text>
        </g>
      ))}
      {p.legend && (
        <g>
          <rect x={p.legend[0]} y={p.legend[1]} width={p.legend[2]} height={p.legend[3]} fill="white" stroke="#333" strokeWidth={1} />
          {seriesNames.map((n, k) => {
            const ly = p.legend![1] + p.legend![3] * (0.18 + 0.32 * k);
            const lx = p.legend![0] + 14;
            return (
              <g key={n}>
                <Marker kind={k} x={lx} y={ly} p={{ ...p, sq: 2.8 }} />
                <text x={lx + 9} y={ly} dominantBaseline="central" fontSize={16} fill={TXT} fontFamily={FONT}>{n}</text>
              </g>
            );
          })}
        </g>
      )}
      <text x={p.title[0]} y={p.title[1]} textAnchor="end" fontSize={27} fontWeight="bold" fill={TXT} fontFamily={FONT}>{p.name}</text>
      <text x={p.xt[0]} y={p.xt[1]} textAnchor="middle" dominantBaseline="central" fontSize={16} fontWeight="bold" fill={TXT} fontFamily={FONT}
        textLength={128} lengthAdjust="spacingAndGlyphs">{xTitle}</text>
      <text transform={`translate(${p.yt[0]},${p.yt[1]}) rotate(-90)`} textAnchor="middle" dominantBaseline="central" fontSize={16.5} fontWeight="bold" fill={TXT} fontFamily={FONT}
        textLength={192} lengthAdjust="spacingAndGlyphs">{yTitle}</text>
    </g>
  );
}

export default function App() {
  return (
    <svg width={1354} height={1773} viewBox="0 0 1354 1773"
      style={{ position: "absolute", left: 0, top: 0, background: "white" }}>
      <rect x={0} y={0} width={1354} height={1773} fill="white" />
      {panels.map((p) => <Panel key={p.name} p={p} />)}
      <text x={717} y={1768} fontFamily="'Liberation Serif', 'DejaVu Serif', serif" fontSize={20} fill="#222"
        textLength={636} lengthAdjust="spacingAndGlyphs">{caption}</text>
    </svg>
  );
}
